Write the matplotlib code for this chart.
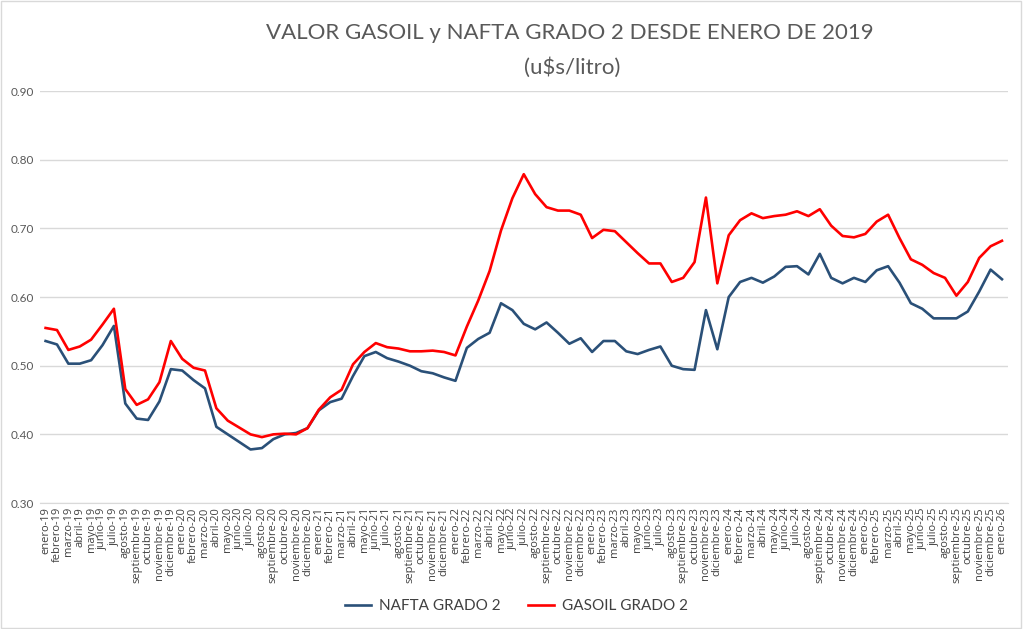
import matplotlib
matplotlib.use("Agg")
import matplotlib.pyplot as plt
from matplotlib.patches import Rectangle

months = ["enero", "febrero", "marzo", "abril", "mayo", "junio", "julio", "agosto",
          "septiembre", "octubre", "noviembre", "diciembre"]
labels = [f"{m}-{y}" for y in range(19, 26) for m in months] + ["enero-26"]

nafta = [0.536, 0.531, 0.503, 0.503, 0.508, 0.530, 0.558, 0.445, 0.423, 0.421, 0.448, 0.495,
         0.493, 0.479, 0.467, 0.411, 0.400, 0.389, 0.378, 0.380, 0.393, 0.400, 0.402, 0.409,
         0.435, 0.447, 0.452, 0.485, 0.514, 0.520, 0.511, 0.506, 0.500, 0.492, 0.489, 0.483,
         0.478, 0.526, 0.539, 0.548, 0.591, 0.581, 0.561, 0.553, 0.563, 0.548, 0.532, 0.540,
         0.520, 0.536, 0.536, 0.521, 0.517, 0.523, 0.528, 0.500, 0.495, 0.494, 0.581, 0.524,
         0.600, 0.622, 0.628, 0.621, 0.630, 0.644, 0.645, 0.633, 0.663, 0.628, 0.620, 0.628,
         0.622, 0.639, 0.645, 0.621, 0.591, 0.583, 0.569, 0.569, 0.569, 0.579, 0.608, 0.640,
         0.626]

gasoil = [0.555, 0.552, 0.523, 0.528, 0.538, 0.560, 0.583, 0.466, 0.443, 0.451, 0.476, 0.536,
          0.510, 0.497, 0.493, 0.438, 0.420, 0.410, 0.400, 0.396, 0.400, 0.401, 0.400, 0.409,
          0.436, 0.454, 0.465, 0.502, 0.520, 0.533, 0.527, 0.525, 0.521, 0.521, 0.522, 0.520,
          0.515, 0.557, 0.595, 0.638, 0.697, 0.744, 0.779, 0.750, 0.731, 0.726, 0.726, 0.720,
          0.686, 0.698, 0.696, 0.680, 0.664, 0.649, 0.649, 0.622, 0.628, 0.651, 0.745, 0.620,
          0.690, 0.712, 0.722, 0.715, 0.718, 0.720, 0.725, 0.718, 0.728, 0.704, 0.689, 0.687,
          0.692, 0.710, 0.720, 0.686, 0.655, 0.647, 0.635, 0.628, 0.602, 0.622, 0.657, 0.674,
          0.682]

yticks = [0.30, 0.40, 0.50, 0.60, 0.70, 0.80, 0.90]

plt.rcParams['font.family'] = ['Lato', 'DejaVu Sans']

fig = plt.figure(figsize=(10.23, 6.29), dpi=100)
ax = fig.add_axes([0.039, 0.2003, 0.946, 0.6548])

x = list(range(len(labels)))
ax.plot(x, nafta, color="#2a5078", lw=1.9, label="NAFTA GRADO 2")
ax.plot(x, gasoil, color="#ff0000", lw=1.9, label="GASOIL GRADO 2")

ax.set_ylim(0.30, 0.90)
ax.set_xlim(-0.5, len(labels) - 0.5)
ax.set_yticks(yticks)
ax.set_yticklabels([f"{v:.2f}" for v in yticks], color="#595959", fontsize=8.5)
ax.set_xticks(x)
ax.set_xticklabels(labels, rotation=90, color="#404040", fontsize=8,
                   family=["Open Sans", "DejaVu Sans"])
ax.tick_params(axis="both", length=0, pad=4)
ax.tick_params(axis="x", pad=3)
ax.grid(axis="y", color="#d9d9d9", lw=1)
ax.set_axisbelow(True)
for s in ["top", "right", "left"]:
    ax.spines[s].set_visible(False)
ax.spines["bottom"].set_color("#d9d9d9")

fig.text(0.557, 0.948, "VALOR GASOIL y NAFTA GRADO 2 DESDE ENERO DE 2019",
         ha="center", va="center", fontsize=16, color="#595959")
fig.text(0.559, 0.893, "(u$s/litro)", ha="center", va="center", fontsize=16, color="#595959")

leg = fig.legend(loc="center", bbox_to_anchor=(0.505, 0.036), ncol=2, frameon=False,
                 fontsize=11, handlelength=1.7, handletextpad=0.5, columnspacing=1.8)
for t in leg.get_texts():
    t.set_color("#404040")

fig.patches.append(Rectangle((0.001, 0.001), 0.997, 0.997, transform=fig.transFigure,
                             fill=False, edgecolor="#d9d9d9", lw=1))

fig.savefig("out.png", dpi=100, facecolor="white")
